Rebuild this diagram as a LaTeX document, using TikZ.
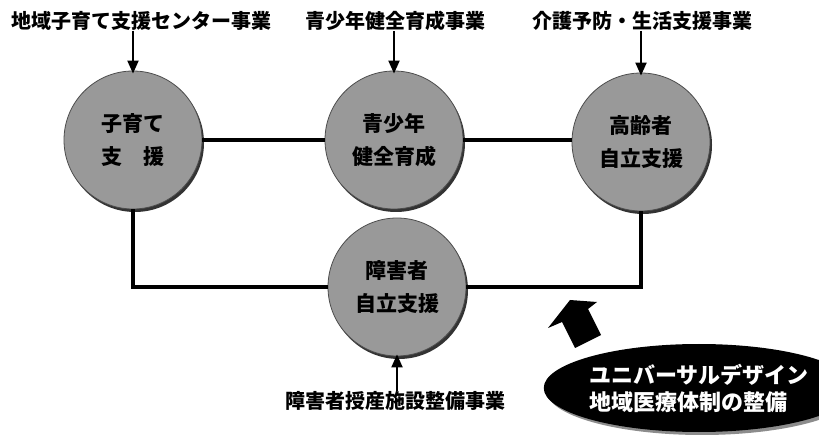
\documentclass[tikz,border=0pt]{standalone}
\usepackage{fontspec}
\setmainfont{Noto Sans CJK JP}
\usetikzlibrary{arrows.meta,shapes.geometric,shadows}
\begin{document}
\begin{tikzpicture}[
			x=1pt, y=-1pt,
			every node/.style={inner sep=0pt, font=\fontsize{20}{24}\selectfont\bfseries},
			support/.style={circle, draw=black!70, line width=0.8pt, fill=black!40,
				minimum size=138pt, align=center, font=\fontsize{21}{33}\selectfont\bfseries,
				drop shadow={shadow xshift=2pt, shadow yshift=-3pt, fill=black!80, opacity=1}},
			link/.style={line width=4pt},
			feed/.style={line width=2pt, -{Triangle[length=13pt, width=11pt]}}
		]
		\useasboundingbox[fill=white] (0,0) rectangle (819,435);
		% the four fields
		\node[support] (kosodate) at (133,140) {子育て\\支　援};
		\node[support] (seishonen) at (394,140) {青少年\\健全育成};
		\node[support] (koreisha) at (641,142) {高齢者\\自立支援};
		\node[support] (shogaisha) at (397,287) {障害者\\自立支援};
		\draw[link] (kosodate.east) -- (seishonen.west);
		\draw[link] (seishonen.east) -- (koreisha.west |- seishonen.east);
		\draw[link] (kosodate.south) |- (shogaisha.west);
		\draw[link] (koreisha.south) |- (shogaisha.east);
		% projects
		\node (kosodatejigyo) at (141,21) {地域子育て支援センター事業};
		\node (seishonenjigyo) at (395,21) {青少年健全育成事業};
		\node (koreishajigyo) at (642,21) {介護予防・生活支援事業};
		\node (shogaishajigyo) at (395,401) {障害者授産施設整備事業};
		\draw[feed] (kosodatejigyo.south -| kosodate.north) -- ([yshift=-3pt]kosodate.north);
		\draw[feed] (seishonenjigyo.south -| seishonen.north) -- ([yshift=-3pt]seishonen.north);
		\draw[feed] (koreishajigyo.south -| koreisha.north) -- ([yshift=-3pt]koreisha.north);
		\draw[feed] (shogaishajigyo.north -| shogaisha.south) -- ([yshift=2pt]shogaisha.south);
		% base
		\fill (548,328) -- (570,300) -- (597,302) -- (588,309) -- (601,335)
			-- (575,348) -- (562,322) -- cycle;
		\node[ellipse, fill=black, text=white, minimum width=228pt, minimum height=88pt,
			align=left, font=\fontsize{22}{27}\selectfont\bfseries,
			drop shadow={shadow xshift=3pt, shadow yshift=-3pt, fill=black!45, opacity=1}]
			(kiban) at (699,388) {ユニバーサルデザイン\\地域医療体制の整備};
	\end{tikzpicture}
\end{document}
